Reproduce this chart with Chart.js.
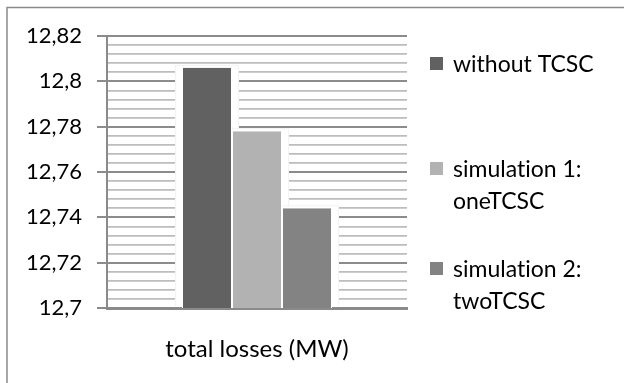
<!DOCTYPE html>
<html>
<head>
<meta charset="utf-8">
<script src="https://cdn.jsdelivr.net/npm/chart.js@4.4.1/dist/chart.umd.min.js"></script>
<style>
  html, body { margin: 0; padding: 0; background: #fff; }
  #wrap { width: 624px; height: 383px; position: relative; }
</style>
</head>
<body>
<div id="wrap"><canvas id="c" width="624" height="383"></canvas></div>
<script>
// Single category on the x axis
const categories = ['total losses (MW)'];

// Series names (legend lines) and their values in MW
const seriesNames = ['without TCSC', 'simulation 1: oneTCSC', 'simulation 2: twoTCSC'];
const legendLines = [['without TCSC'], ['simulation 1:', 'oneTCSC'], ['simulation 2:', 'twoTCSC']];
const withoutTCSC = [12.806];
const oneTCSC = [12.778];
const twoTCSC = [12.744];

// Y axis range and labelled ticks
const yMin = 12.70;
const yMax = 12.82;
const yStep = 0.004;
const yLabelled = ['12,7', '12,72', '12,74', '12,76', '12,78', '12,8', '12,82'];

const colors = ['#616161', '#b2b2b2', '#838383'];
const FONT = 'Lato, "Open Sans", sans-serif';

function isMajor(v) {
  const k = Math.round((v - yMin) / yStep);
  return k % 5 === 0;
}

// White halo behind every bar, hiding the grid lines near it
const haloPlugin = {
  id: 'halo',
  beforeDatasetsDraw(chart) {
    const ctx = chart.ctx;
    const bottom = chart.chartArea.bottom - 2;
    ctx.save();
    chart.data.datasets.forEach((ds, i) => {
      chart.getDatasetMeta(i).data.forEach(bar => {
        const p = bar.getProps(['x', 'y', 'width'], true);
        const l = p.x - p.width / 2 - 7;
        const r = p.x + p.width / 2 + 7;
        const t = p.y - 3;
        ctx.fillStyle = '#f3f3f3';
        ctx.fillRect(l, t, r - l, bottom - t);
        ctx.fillStyle = '#ffffff';
        ctx.fillRect(l + 1, t + 1, r - l - 2, bottom - t - 1);
      });
    });
    ctx.restore();
  }
};

// Frame line and the legend on the right
const framePlugin = {
  id: 'frame',
  beforeDraw(chart) {
    const ctx = chart.ctx;
    ctx.save();
    ctx.strokeStyle = '#8a8a8a';
    ctx.lineWidth = 1.5;
    ctx.beginPath();
    ctx.moveTo(7, chart.height);
    ctx.lineTo(7, 7.5);
    ctx.lineTo(chart.width, 7.5);
    ctx.stroke();
    ctx.restore();
  },
  afterDraw(chart) {
    const ctx = chart.ctx;
    const firstLineY = [65, 170, 270];
    ctx.save();
    ctx.font = '23px ' + FONT;
    if ('textRendering' in ctx) ctx.textRendering = 'optimizeSpeed';
    ctx.textBaseline = 'middle';
    ctx.textAlign = 'left';
    chart.data.datasets.forEach((ds, i) => {
      const y0 = firstLineY[i];
      ctx.fillStyle = ds.backgroundColor;
      ctx.fillRect(430, y0 - 8, 13, 13);
      ctx.fillStyle = '#000';
      legendLines[i].forEach((line, j) => {
        ctx.fillText(line, 453, y0 + j * 32);
      });
    });
    ctx.restore();
  }
};

new Chart(document.getElementById('c'), {
  type: 'bar',
  data: {
    labels: categories,
    datasets: [
      { label: seriesNames[0], data: withoutTCSC, backgroundColor: colors[0] },
      { label: seriesNames[1], data: oneTCSC, backgroundColor: colors[1] },
      { label: seriesNames[2], data: twoTCSC, backgroundColor: colors[2] }
    ].map(d => Object.assign(d, {
      borderColor: '#ffffff',
      borderWidth: { left: 1, right: 1, top: 0, bottom: 0 },
      categoryPercentage: 0.5,
      barPercentage: 1.0
    }))
  },
  options: {
    responsive: false,
    animation: false,
    devicePixelRatio: 1,
    layout: { padding: { left: 0, right: 217, top: 36, bottom: 0 } },
    plugins: {
      legend: { display: false },
      tooltip: { enabled: false }
    },
    scales: {
      x: {
        grid: { display: false },
        border: { display: true, color: '#8a8a8a', width: 3 },
        ticks: {
          color: '#000',
          font: { family: FONT, size: 24 },
          padding: 19
        },
        afterFit(scale) { scale.height = 75; }
      },
      y: {
        min: yMin,
        max: yMax,
        border: { display: true, color: '#8a8a8a', width: 2 },
        grid: {
          color: ctx => isMajor(ctx.tick.value) ? '#8c8c8c' : '#bdbdbd',
          lineWidth: ctx => isMajor(ctx.tick.value) ? 2 : 1.8,
          tickColor: ctx => isMajor(ctx.tick.value) ? '#8c8c8c' : 'rgba(0,0,0,0)',
          tickLength: 10,
          drawTicks: true
        },
        ticks: {
          stepSize: yStep,
          autoSkip: false,
          color: '#000',
          padding: 15,
          font: { family: FONT, size: 22 },
          callback(v) {
            if (!isMajor(v)) return '';
            const k = Math.round((v - yMin) / (yStep * 5));
            return yLabelled[k];
          }
        },
        afterFit(scale) { scale.width = 107; }
      }
    }
  },
  plugins: [haloPlugin, framePlugin]
});
</script>
</body>
</html>
